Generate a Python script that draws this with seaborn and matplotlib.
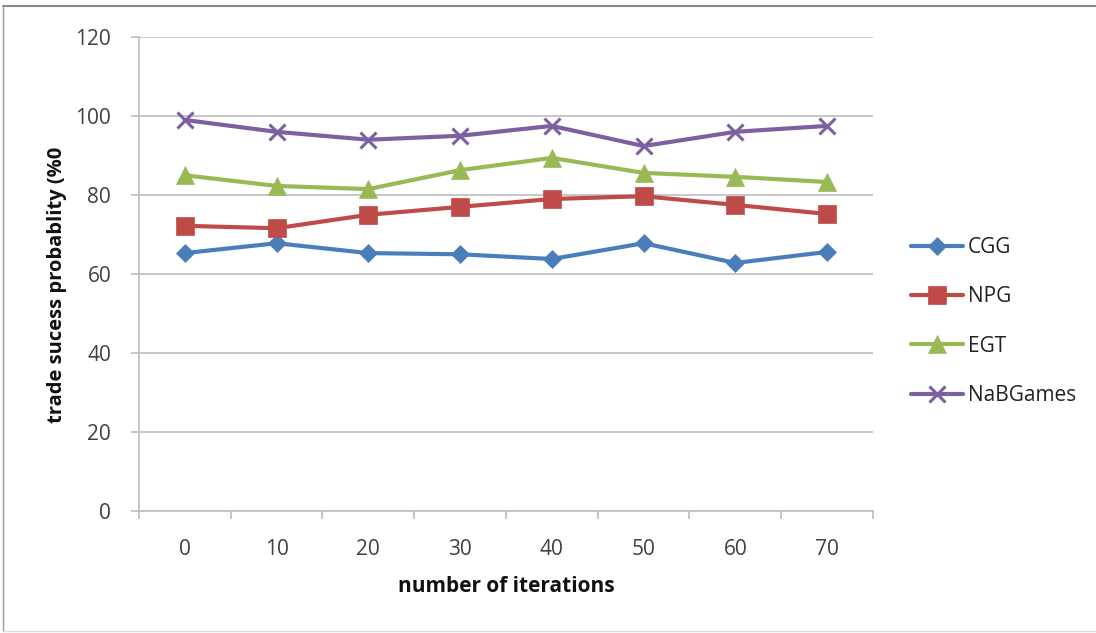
import matplotlib
matplotlib.use("Agg")
import matplotlib.pyplot as plt
from matplotlib.lines import Line2D
import seaborn as sns
import pandas as pd

# Data
iterations = ["0", "10", "20", "30", "40", "50", "60", "70"]
cgg = [65.3, 67.8, 65.3, 65.0, 63.8, 67.8, 62.8, 65.6]
npg = [72.2, 71.6, 75.0, 77.0, 79.0, 79.7, 77.5, 75.2]
egt = [85.0, 82.3, 81.5, 86.3, 89.4, 85.6, 84.6, 83.3]
nabgames = [99.0, 96.0, 94.0, 95.0, 97.5, 92.4, 96.0, 97.5]
series_names = ["CGG", "NPG", "EGT", "NaBGames"]
y_ticks = [0, 20, 40, 60, 80, 100, 120]

colors = ["#4a7ebb", "#be4b48", "#98b954", "#7d60a0"]
markers = ["D", "s", "^", "x"]
msizes = [9.5, 13, 13, 12]

rows = []
for name, vals in zip(series_names, [cgg, npg, egt, nabgames]):
    for it, v in zip(iterations, vals):
        rows.append({"iteration": it, "value": v, "series": name})
df = pd.DataFrame(rows)

sns.set_theme(style="white")
plt.rcParams["font.family"] = ["Open Sans", "DejaVu Sans"]

fig = plt.figure(figsize=(10.96, 6.33), dpi=100)
ax = fig.add_axes([0.1268, 0.1927, 0.6697, 0.7488])

for name, c, m, ms in zip(series_names, colors, markers, msizes):
    sub = df[df["series"] == name]
    sns.pointplot(data=sub, x="iteration", y="value", order=iterations,
                  color=c, marker=m, markersize=ms, linewidth=3,
                  markeredgewidth=2.2 if m == "x" else 0.5,
                  errorbar=None, ax=ax, zorder=3)

ax.set_ylim(0, 120)
ax.set_yticks(y_ticks)
ax.set_xlim(-0.5, len(iterations) - 0.5)
ax.yaxis.grid(True, color="#bdbdbd", linewidth=1.2)
ax.set_axisbelow(True)

for s in ["top", "right"]:
    ax.spines[s].set_visible(False)
for s in ["left", "bottom"]:
    ax.spines[s].set_color("#bdbdbd")
    ax.spines[s].set_linewidth(1.2)

# category boundary ticks on the x axis
ax.set_xticks(range(len(iterations)))
ax.set_xticklabels(iterations)
ax.set_xticks([i - 0.5 for i in range(len(iterations) + 1)], minor=True)
ax.tick_params(axis="x", which="major", length=0, pad=20, labelsize=15, colors="#404040")
ax.tick_params(axis="x", which="minor", length=6, width=1.2, color="#bdbdbd", direction="out", bottom=True)
ax.tick_params(axis="y", length=6, width=1.2, color="#bdbdbd", direction="out", left=True,
               pad=14, labelsize=15, labelcolor="#404040")

ax.set_xlabel("number of iterations", fontsize=15, fontweight="bold", labelpad=12, color="#111111")
ax.set_ylabel("trade sucess probablity (%0", fontsize=14.5, fontweight="bold", color="#111111")
ax.yaxis.set_label_coords(-0.098, 0.478)

handles = [Line2D([0], [0], color=c, marker=m, markersize=ms, linewidth=3,
                  markeredgewidth=2.2 if m == "x" else 0.5)
           for c, m, ms in zip(colors, markers, msizes)]
fig.legend(handles, series_names, loc="center left", bbox_to_anchor=(0.814, 0.492),
           frameon=False, fontsize=15, labelspacing=1.36, handlelength=2.5,
           handletextpad=0.25, labelcolor="#222222")

# outer chart border
fig.add_artist(Line2D([0.003, 1.0], [0.99, 0.99], transform=fig.transFigure, color="#8a8a8a", linewidth=1.5))
fig.add_artist(Line2D([0.003, 0.003], [0.003, 0.99], transform=fig.transFigure, color="#9a9a9a", linewidth=1.0))
fig.add_artist(Line2D([0.003, 1.0], [0.003, 0.003], transform=fig.transFigure, color="#dddddd", linewidth=1.0))

fig.savefig("out.png", dpi=100)
